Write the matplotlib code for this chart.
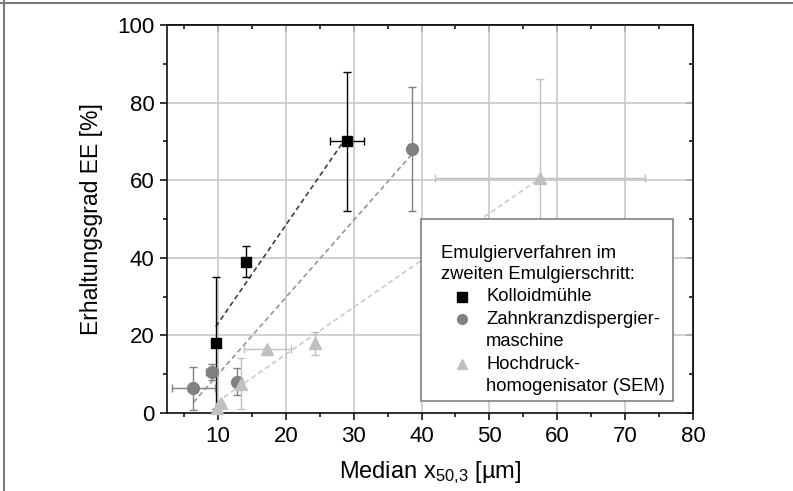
import numpy as np
import matplotlib.pyplot as plt
from matplotlib.lines import Line2D
from matplotlib.patches import Rectangle
from matplotlib.ticker import MultipleLocator

plt.rcParams['font.family'] = ['Liberation Sans', 'DejaVu Sans']
plt.rcParams['mathtext.fontset'] = 'custom'
plt.rcParams['mathtext.rm'] = 'Liberation Sans'
plt.rcParams['mathtext.it'] = 'Liberation Sans'

# Kolloidmuehle
km_x = [9.7, 14.1, 29.0]
km_y = [18.0, 39.0, 70.0]
km_xerr = [0.0, 0.0, 2.5]
km_yerr = [17.0, 4.0, 18.0]

# Zahnkranzdispergiermaschine
zk_x = [6.4, 9.1, 12.8, 38.6]
zk_y = [6.4, 10.6, 8.1, 68.0]
zk_xerr = [3.2, 0.8, 0.0, 0.0]
zk_yerr = [5.5, 2.0, 3.5, 16.0]

# Hochdruckhomogenisator (SEM)
hd_x = [9.9, 10.5, 13.4, 17.3, 24.3, 57.5]
hd_y = [1.2, 2.5, 7.6, 16.5, 18.0, 60.5]
hd_xerr = [0.0, 0.0, 0.0, 3.5, 0.0, 15.5]
hd_yerr = [0.0, 0.0, 6.5, 0.0, 3.0, 25.5]

series = [
    (km_x, km_y, km_xerr, km_yerr, 's', '#000000', '#404040', 7.5),
    (zk_x, zk_y, zk_xerr, zk_yerr, 'o', '#808080', '#969696', 8.5),
    (hd_x, hd_y, hd_xerr, hd_yerr, '^', '#c0c0c0', '#cbcbcb', 8.5),
]

fig = plt.figure(figsize=(7.93, 4.91), dpi=100)
ax = fig.add_axes([167 / 793, 1 - 413 / 491, 526 / 793, 388 / 491])

for x, y, xe, ye, mk, col, fitcol, ms in series:
    x = np.array(x)
    y = np.array(y)
    # linear fit over the measured range
    b, a = np.polyfit(x, y, 1)
    xf = np.array([x.min(), x.max()])
    ax.plot(xf, a + b * xf, ls=(0, (3, 2)), color=fitcol, lw=1.2, zorder=2)
    ax.errorbar(x, y, xerr=xe, yerr=ye, fmt=mk, color=col, ms=ms,
                mec=col, mfc=col, ecolor=col, elinewidth=1.0, capsize=3.2,
                capthick=1.0, zorder=3, clip_on=False)

ax.set_xlim(2.5, 80)
ax.set_ylim(0, 100)
ax.set_xticks(range(10, 81, 10))
ax.set_yticks(range(0, 101, 20))
ax.xaxis.set_minor_locator(MultipleLocator(5))
ax.yaxis.set_minor_locator(MultipleLocator(10))
ax.grid(True, which='major', color='#c8c8c8', lw=1.2, zorder=0)
ax.set_axisbelow(True)

for s in ax.spines.values():
    s.set_linewidth(1.2)
    s.set_color('#111111')

ax.tick_params(axis='both', which='major', direction='out', length=5, width=1.1,
               labelsize=16, pad=4, top=False, right=False)
ax.tick_params(axis='both', which='minor', direction='out', length=3, width=1.1,
               top=False, right=False)

# inward ticks on the top and right frame
sx = ax.secondary_xaxis('top')
sx.set_xticks(range(10, 81, 10))
sx.xaxis.set_minor_locator(MultipleLocator(5))
sx.tick_params(which='major', direction='in', length=5, width=1.1, labeltop=False)
sx.tick_params(which='minor', direction='in', length=3, width=1.1)
sx.spines['top'].set_linewidth(1.2)
sy = ax.secondary_yaxis('right')
sy.set_yticks(range(0, 101, 20))
sy.yaxis.set_minor_locator(MultipleLocator(10))
sy.tick_params(which='major', direction='in', length=5, width=1.1, labelright=False)
sy.tick_params(which='minor', direction='in', length=3, width=1.1)
sy.spines['right'].set_linewidth(1.2)

ax.set_xlabel('Median x$_{50{,}3}$ [µm]', fontsize=17, labelpad=9)
ax.set_ylabel('Erhaltungsgrad EE [%]', fontsize=16.5, labelpad=10)

# legend box
ax.add_patch(Rectangle((0.483, 0.031), 0.479, 0.469, transform=ax.transAxes,
                       facecolor='white', edgecolor='#8a8a8a', lw=1.3,
                       zorder=5, clip_on=False))
fs = 13.2
ax.text(0.521, 0.412, 'Emulgierverfahren im', transform=ax.transAxes,
        fontsize=fs, va='center', ha='left', zorder=6)
ax.text(0.521, 0.356, 'zweiten Emulgierschritt:', transform=ax.transAxes,
        fontsize=fs, va='center', ha='left', zorder=6)
rows = [
    (0.299, 's', '#000000', 6.5, ['Kolloidmühle']),
    (0.242, 'o', '#808080', 7.0, ['Zahnkranzdispergier-', 'maschine']),
    (0.126, '^', '#c0c0c0', 7.0, ['Hochdruck-', 'homogenisator (SEM)']),
]
for yy, mk, col, ms, lines in rows:
    ax.add_line(Line2D([0.561], [yy], marker=mk, color=col, ms=ms, ls='none',
                       transform=ax.transAxes, zorder=6, clip_on=False))
    for i, t in enumerate(lines):
        ax.text(0.607, yy - i * 0.0575, t, transform=ax.transAxes,
                fontsize=fs, va='center', ha='left', zorder=6)

# frame lines along the top and left edge of the image
fig.add_artist(Line2D([0, 1], [1 - 2.5 / 491] * 2, color='#7a7a7a', lw=1.5,
                      transform=fig.transFigure))
fig.add_artist(Line2D([3.5 / 793] * 2, [0, 1], color='#7a7a7a', lw=1.5,
                      transform=fig.transFigure))

fig.savefig('out.png', dpi=100)
